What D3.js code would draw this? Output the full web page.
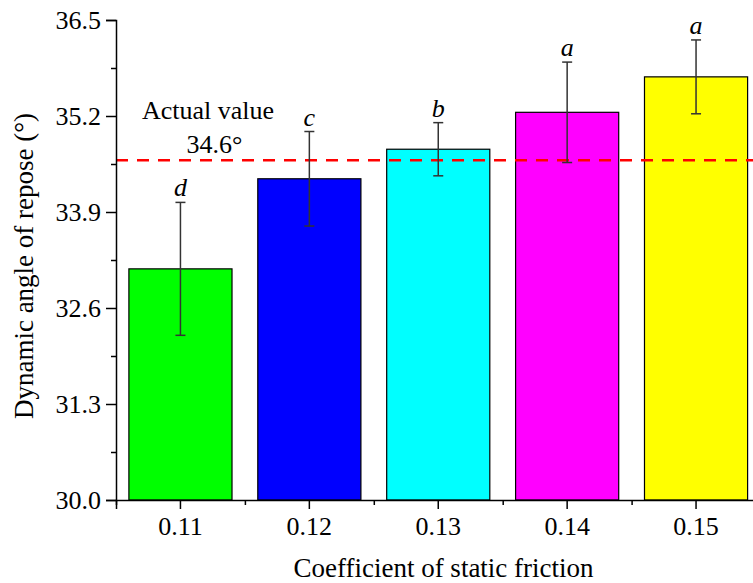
<!DOCTYPE html>
<html>
<head>
<meta charset="utf-8">
<script src="https://cdn.jsdelivr.net/npm/d3@7"></script>
<style>
  html, body { margin: 0; padding: 0; background: #fff; }
  svg { display: block; }
  text { font-family: "Liberation Serif", "Times New Roman", serif; fill: #000; }
</style>
</head>
<body>
<svg id="chart" width="753" height="583"></svg>
<script>
// Dynamic angle of repose for each coefficient of static friction
const categories = ["0.11", "0.12", "0.13", "0.14", "0.15"];
const means      = [33.13, 34.35, 34.75, 35.25, 35.73];
const errors     = [0.90, 0.64, 0.36, 0.68, 0.50];
const groups     = ["d", "c", "b", "a", "a"];
const barColors  = ["#00ff00", "#0000ff", "#00ffff", "#ff00ff", "#ffff00"];
const yMajorTicks = [30.0, 31.3, 32.6, 33.9, 35.2, 36.5];
const yMinorTicks = [30.65, 31.95, 33.25, 34.55, 35.85];
const actualValue = 34.6;

const svg = d3.select("#chart");
const plotLeft = 116, plotTop = 20, plotBottom = 500, plotRight = 760.5;

const x = d3.scaleBand().domain(categories).range([plotLeft, plotRight])
  .paddingInner(0.2).paddingOuter(0.1);
const y = d3.scaleLinear().domain([30, 36.5]).range([plotBottom, plotTop]);
const xEdges = d3.scaleLinear().domain([0, categories.length]).range([plotLeft, plotRight]);

// bars
svg.append("g").selectAll("rect").data(categories).join("rect")
  .attr("x", d => x(d))
  .attr("y", (d, i) => y(means[i]))
  .attr("width", x.bandwidth())
  .attr("height", (d, i) => y(30) - y(means[i]))
  .attr("fill", (d, i) => barColors[i])
  .attr("stroke", "#000")
  .attr("stroke-width", 1.2);

// reference line for the measured value
svg.append("line")
  .attr("x1", plotLeft).attr("x2", 753)
  .attr("y1", y(actualValue)).attr("y2", y(actualValue))
  .attr("stroke", "#ff0000").attr("stroke-width", 2.5)
  .attr("stroke-dasharray", "12,9");

// error bars
const eb = svg.append("g").attr("stroke", "#333").attr("stroke-width", 1.5);
categories.forEach((c, i) => {
  const cx = x(c) + x.bandwidth() / 2;
  const hi = y(means[i] + errors[i]), lo = y(means[i] - errors[i]);
  eb.append("line").attr("x1", cx).attr("x2", cx).attr("y1", hi).attr("y2", lo);
  eb.append("line").attr("x1", cx - 5).attr("x2", cx + 5).attr("y1", hi).attr("y2", hi);
  eb.append("line").attr("x1", cx - 5).attr("x2", cx + 5).attr("y1", lo).attr("y2", lo);
});

// significance letters
svg.append("g").selectAll("text").data(categories).join("text")
  .attr("x", d => x(d) + x.bandwidth() / 2)
  .attr("y", (d, i) => y(means[i] + errors[i]) - 6)
  .attr("text-anchor", "middle")
  .attr("font-size", 26)
  .attr("font-style", "italic")
  .text((d, i) => groups[i]);

// y axis
svg.append("g").attr("transform", `translate(${plotLeft},0)`)
  .call(d3.axisLeft(y).tickValues(yMajorTicks).tickSize(10).tickPadding(5)
    .tickFormat(d3.format(".1f")));
svg.append("g").attr("transform", `translate(${plotLeft},0)`)
  .call(d3.axisLeft(y).tickValues(yMinorTicks).tickSize(5).tickFormat(""))
  .call(g => g.select(".domain").remove());

// x axis
svg.append("g").attr("transform", `translate(0,${plotBottom})`)
  .call(d3.axisBottom(x).tickSize(9).tickPadding(8));
svg.append("g").attr("transform", `translate(0,${plotBottom})`)
  .call(d3.axisBottom(xEdges).tickValues(d3.range(categories.length + 1)).tickSize(5).tickFormat(""))
  .call(g => g.select(".domain").remove());

svg.selectAll(".domain").attr("stroke", "#000").attr("stroke-width", 1.5);
svg.selectAll(".tick line").attr("stroke", "#000").attr("stroke-width", 1.5);
svg.selectAll(".tick text").attr("font-size", 26)
  .attr("font-family", "Liberation Serif, Times New Roman, serif").attr("fill", "#000");

// axis titles
svg.append("text")
  .attr("x", 443.5).attr("y", 577)
  .attr("text-anchor", "middle").attr("font-size", 27)
  .text("Coefficient of static friction");
svg.append("text")
  .attr("transform", "translate(33,266) rotate(-90)")
  .attr("text-anchor", "middle").attr("font-size", 27)
  .text("Dynamic angle of repose (°)");

// annotation for the reference line
svg.append("text")
  .attr("x", 208).attr("y", 119)
  .attr("text-anchor", "middle").attr("font-size", 26)
  .text("Actual value");
svg.append("text")
  .attr("x", 214.5).attr("y", 153)
  .attr("text-anchor", "middle").attr("font-size", 26)
  .text(`${actualValue}°`);
</script>
</body>
</html>
